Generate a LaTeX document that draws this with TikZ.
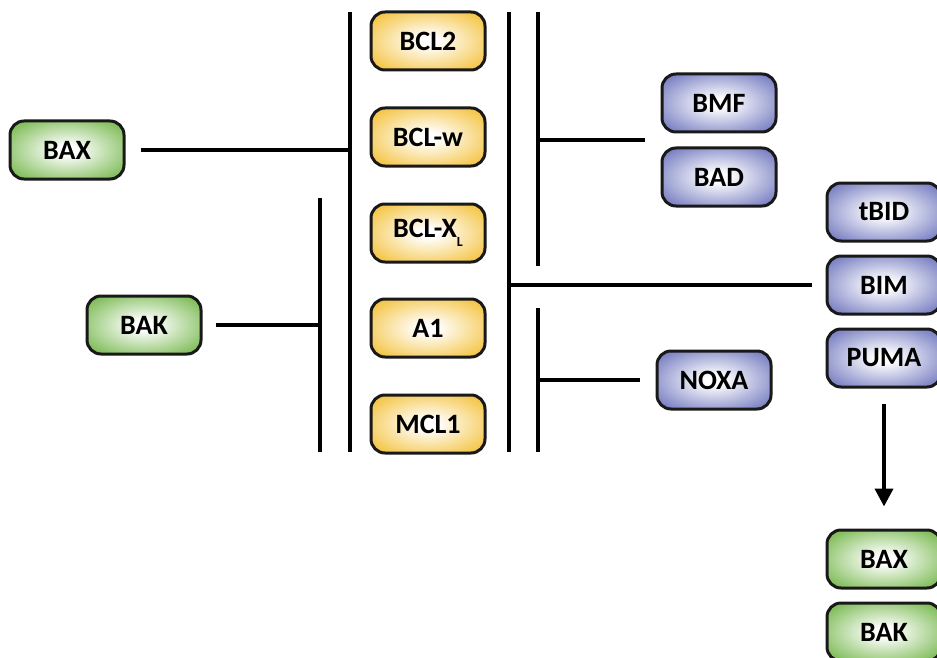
\documentclass[tikz,border=0pt]{standalone}
\usepackage{fontspec}
\setmainfont{Carlito}
\usetikzlibrary{arrows.meta}

\definecolor{bclyellow}{RGB}{242,186,36}
\definecolor{effgreen}{RGB}{104,176,58}
\definecolor{bhblue}{RGB}{98,106,184}
\definecolor{boxline}{RGB}{25,25,25}

\pgfdeclareradialshading{yglow}{\pgfpoint{0bp}{0bp}}{color(0bp)=(white); color(4bp)=(white); color(36bp)=(bclyellow); color(50bp)=(bclyellow)}
\pgfdeclareradialshading{gglow}{\pgfpoint{0bp}{0bp}}{color(0bp)=(white); color(4bp)=(white); color(36bp)=(effgreen); color(50bp)=(effgreen)}
\pgfdeclareradialshading{bglow}{\pgfpoint{0bp}{0bp}}{color(0bp)=(white); color(4bp)=(white); color(36bp)=(bhblue); color(50bp)=(bhblue)}

\tikzset{
  protein/.style={draw=boxline, line width=3pt, rounded corners=14pt,
    minimum width=114pt, minimum height=58pt, inner sep=0pt,
    font=\bfseries\fontsize{28}{32}\selectfont},
  ybox/.style={protein, shade, shading=yglow},
  gbox/.style={protein, shade, shading=gglow},
  bbox/.style={protein, shade, shading=bglow},
  bar/.style={line width=4pt}
}

\begin{document}
\begin{tikzpicture}[x=1pt,y=-1pt]
\useasboundingbox (0,0) rectangle (937,658);

% Anti-apoptotic proteins
\node[ybox] (bcltwo) at (428,41) {BCL2};
\node[ybox] (bclw) at (428,137) {BCL-w};
\node[ybox] (bclxl) at (428,233) {BCL-X\raisebox{-0.32em}{\fontsize{14}{14}\selectfont L}};
\node[ybox] (aone) at (428,328) {A1};
\node[ybox] (mclone) at (428,424) {MCL1};

% Effectors on the left
\node[gbox] (baxL) at (67,150) {BAX};
\node[gbox] (bakL) at (144,325) {BAK};

% BH3-only proteins
\node[bbox] (bmf) at (719,103) {BMF};
\node[bbox] (bad) at (719,177) {BAD};
\node[bbox] (noxa) at (714,380) {NOXA};
\node[bbox] (tbid) at (884,212) {tBID};
\node[bbox] (bim) at (884,285) {BIM};
\node[bbox] (puma) at (884,358) {PUMA};

% Effectors on the right
\node[gbox] (baxR) at (884,559) {BAX};
\node[gbox] (bakR) at (884,632) {BAK};

% Vertical bars
\coordinate (b1t) at (350,12);  \coordinate (b1b) at (350,452);
\coordinate (b2t) at (320,198); \coordinate (b2b) at (320,452);
\coordinate (b3t) at (509,12);  \coordinate (b3b) at (509,452);
\coordinate (b4t) at (538,12);  \coordinate (b4b) at (538,266);
\coordinate (b5t) at (538,308); \coordinate (b5b) at (538,452);
\draw[bar] (b1t) -- (b1b);
\draw[bar] (b2t) -- (b2b);
\draw[bar] (b3t) -- (b3b);
\draw[bar] (b4t) -- (b4b);
\draw[bar] (b5t) -- (b5b);

% Horizontal connectors
\draw[bar, shorten <=15pt] (baxL.east) -- (baxL.east -| b1t);
\draw[bar, shorten <=13pt] (bakL.east) -- (bakL.east -| b2t);
\draw[bar, shorten >=14pt] (bim.west -| b3t) -- (bim.west);
\coordinate (mfend) at (645,140);
\draw[bar] (mfend -| b4t) -- (mfend);
\draw[bar, shorten >=16pt] (noxa.west -| b5t) -- (noxa.west);

% Activation arrow
\draw[bar, -{Triangle[length=18pt,width=18pt]}, shorten <=15pt, shorten >=22pt] (puma.south) -- (baxR.north);

\end{tikzpicture}
\end{document}
